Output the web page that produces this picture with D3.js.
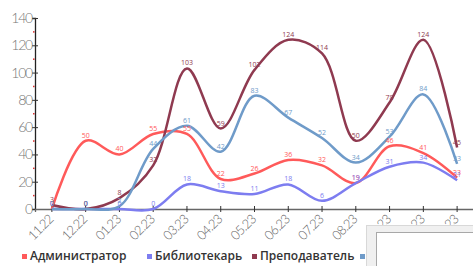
<!DOCTYPE html>
<html>
<head>
<meta charset="utf-8">
<script src="https://cdn.jsdelivr.net/npm/d3@7"></script>
<style>
  body { margin: 0; background: #fff; }
  svg { display: block; font-family: "Open Sans", "DejaVu Sans", sans-serif; }
</style>
</head>
<body>
<div id="chart"></div>
<script>
// categories and series values
var months = ["11.22", "12.22", "01.23", "02.23", "03.23", "04.23", "05.23", "06.23", "07.23", "08.23", "09.23", "10.23", "11.23"];
var admin     = [0, 50, 40, 55, 55, 22, 26, 36, 32, 19, 46, 41, 23];
var librarian = [0, 0, 0, 0, 18, 13, 11, 18, 6, 19, 31, 34, 21];
var teacher   = [3, 0, 8, 32, 103, 59, 102, 124, 114, 50, 78, 124, 45];
var other     = [0, 0, 2, 44, 61, 42, 83, 67, 52, 34, 53, 84, 33];
var yTicks = [0, 20, 40, 60, 80, 100, 120, 140];

var series = [
    {name: "Администратор", values: admin, color: "#ff5a5a"},
    {name: "Библиотекарь", values: librarian, color: "#7d7df0"},
    {name: "Преподаватель", values: teacher, color: "#8f3a50"},
    {name: "", values: other, color: "#6f9bc9"}
];

var W = 473, H = 266;
var margin = {top: 18, right: -1, bottom: 57, left: 35};
var width = W - margin.left - margin.right,
    height = H - margin.top - margin.bottom;

var svg = d3.select("#chart").append("svg")
    .attr("width", W)
    .attr("height", H);

var g = svg.append("g")
    .attr("transform", "translate(" + margin.left + "," + margin.top + ")");

var x = d3.scaleBand().domain(months).range([0, width]);
var y = d3.scaleLinear().domain([0, 140]).range([height, 0]);

// minor red dots between the y ticks
g.selectAll(".minor")
    .data(d3.range(10, 140, 20))
    .enter().append("rect")
    .attr("x", -2)
    .attr("y", d => y(d) - 0.5)
    .attr("width", 1.5)
    .attr("height", 1.5)
    .attr("fill", "#e03030");

// y axis
var yAxis = g.append("g")
    .call(d3.axisLeft(y).tickValues(yTicks).tickSize(3));
yAxis.select(".domain").attr("stroke", "#222").attr("stroke-width", 1.3);
yAxis.selectAll(".tick line").attr("x2", 3).attr("x1", -3).attr("stroke", "#333");
yAxis.selectAll(".tick text")
    .attr("x", -3)
    .attr("fill", "#777")
    .style("font-family", "Lato, sans-serif")
    .style("font-weight", "300")
    .style("font-size", "14px")
    .style("letter-spacing", "-1.2px");

// x axis
var xAxis = g.append("g")
    .attr("transform", "translate(0," + height + ")")
    .call(d3.axisBottom(x).tickSizeOuter(0).tickSize(3));
xAxis.select(".domain").attr("stroke", "#666").attr("stroke-width", 1.3);
xAxis.selectAll(".tick line").attr("y1", -3).attr("y2", 3).attr("stroke", "#333");
xAxis.selectAll(".tick text")
    .attr("fill", "#666")
    .style("font-family", "Lato, sans-serif")
    .style("font-weight", "300")
    .style("font-size", "13px")
    .style("letter-spacing", "-0.8px")
    .style("text-anchor", "end")
    .attr("dy", "0.35em")
    .attr("transform", "translate(-1,8) rotate(-45)")
    .attr("x", 0)
    .attr("y", 0);

var line = d3.line()
    .x((d, i) => x(months[i]) + x.bandwidth() / 2)
    .y(d => y(d))
    .curve(d3.curveCatmullRom.alpha(0.5));

// lines
series.forEach(function(s) {
    g.append("path")
        .datum(s.values)
        .attr("fill", "none")
        .attr("stroke", s.color)
        .attr("stroke-width", 2.5)
        .attr("d", line);
});

// value labels
series.forEach(function(s) {
    g.selectAll(null)
        .data(s.values)
        .enter().append("text")
        .attr("x", (d, i) => x(months[i]) + x.bandwidth() / 2)
        .attr("y", d => y(d) - 3)
        .attr("text-anchor", "middle")
        .attr("fill", s.color)
        .style("font-size", "7px")
        .text(d => d);
});

// legend
var legend = svg.append("g").attr("transform", "translate(0,258)");
var legX = [22, 147, 252, 360];
series.forEach(function(s, i) {
    legend.append("rect")
        .attr("x", legX[i])
        .attr("y", -4)
        .attr("width", 5)
        .attr("height", 5)
        .attr("fill", s.color);
    legend.append("text")
        .attr("x", legX[i] + 8)
        .attr("y", 2)
        .attr("fill", "#333")
        .style("font-size", "12px")
        .style("font-weight", "600")
        .text(s.name);
});

// popup window covering the bottom right corner
svg.append("rect")
    .attr("x", 366.5).attr("y", 225.5)
    .attr("width", 110).attr("height", 45)
    .attr("fill", "#f0f0f0")
    .attr("stroke", "#d8d8d8");
svg.append("rect")
    .attr("x", 376.5).attr("y", 232.5)
    .attr("width", 100).attr("height", 40)
    .attr("fill", "#fff")
    .attr("stroke", "#a8a8a8");
</script>
</body>
</html>
